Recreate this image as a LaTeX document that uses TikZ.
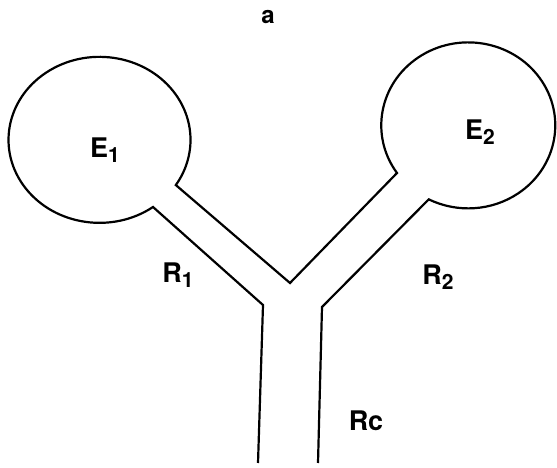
\documentclass[tikz,border=0pt]{standalone}
\usepackage{fontspec}
\setmainfont{TeX Gyre Heros}
\begin{document}
\begin{tikzpicture}[x=1pt,y=1pt,
  outline/.style={line width=2.2pt, line join=miter, black},
  lbl/.style={font=\fontsize{27}{30}\selectfont\bfseries, inner sep=0pt}]
\useasboundingbox (0,0) rectangle (557,468);
% key points (pixel coordinates, y upward)
\coordinate (LB) at (258,5);
\coordinate (L) at (263,163);
\coordinate (B1) at (153,261);
\coordinate (V) at (290,185);
\coordinate (A2) at (397,295);
\coordinate (R) at (322,161);
\coordinate (RB) at (318,5);
\draw[outline] (LB) -- (L) -- (B1)
  arc[start angle=306, end angle=-33, x radius=91, y radius=83]
  -- (V) -- (A2)
  arc[start angle=215, end angle=-117, x radius=87, y radius=83]
  coordinate (B2) -- (R) -- (RB);
\newcommand{\lsub}[1]{\raisebox{-0.35ex}{\fontsize{21}{22}\selectfont #1}}
\node[lbl] (a) at (268,451) {\fontsize{24}{26}\selectfont\bfseries a};
\node[lbl] (E1) at (105,318) {E\lsub{1}};
\node[lbl] (E2) at (480,336) {E\lsub{2}};
\node[lbl] (R1) at (178,193) {R\lsub{1}};
\node[lbl] (R2) at (438,191) {R\lsub{2}};
\node[lbl] (Rc) at (366,47) {Rc};
\end{tikzpicture}
\end{document}
